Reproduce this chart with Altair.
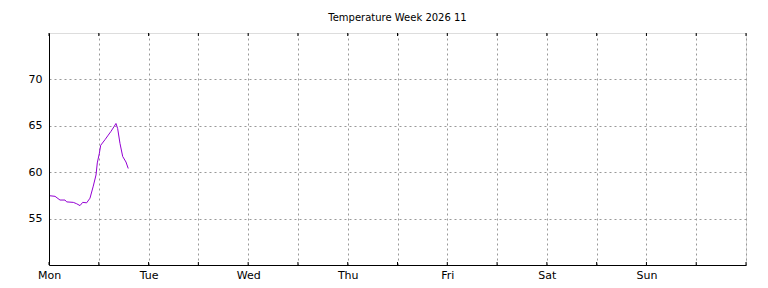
import altair as alt
import pandas as pd

hours = [0.24, 1.45, 2.65, 3.86, 4.27, 5.86, 6.67, 7.47, 8.12, 9.08, 9.88, 10.67,
         11.33, 11.64, 12.12, 12.46, 13.49, 14.29, 14.94, 15.66, 16.14, 16.55,
         17.11, 17.76, 18.55, 19.1]
temps = [57.46, 57.4, 57.0, 57.0, 56.8, 56.75, 56.6, 56.4, 56.75, 56.7, 57.2, 58.5,
         59.7, 61.0, 62.0, 62.9, 63.5, 64.0, 64.4, 64.9, 65.25, 64.7,
         63.1, 61.7, 61.1, 60.4]
day_names = ["Mon", "Tue", "Wed", "Thu", "Fri", "Sat", "Sun"]
x_ticks = list(range(0, 169, 12))
y_ticks = [55, 60, 65, 70]

df = pd.DataFrame({"h": hours, "t": temps})
ticks_df = pd.DataFrame({"h": x_ticks})

label_expr = ("datum.value % 24 == 0 && datum.value < 168 ? "
              "['Mon','Tue','Wed','Thu','Fri','Sat','Sun'][datum.value/24] : ''")

xscale = alt.Scale(domain=[0, 168], nice=False, zero=False)
yscale = alt.Scale(domain=[50, 75], nice=False, zero=False)

line = alt.Chart(df).mark_line(color="#9400D3", strokeWidth=1).encode(
    x=alt.X("h:Q", scale=xscale,
            axis=alt.Axis(values=x_ticks, labelExpr=label_expr, title=None,
                          grid=True, gridDash=[2, 3], gridColor="#999999",
                          ticks=False, labelPadding=4, domainColor="black",
                          labelFlush=False, labelOverlap=False,
                          labelFontSize=11, labelColor="black",
                          labelFont="DejaVu Sans")),
    y=alt.Y("t:Q", scale=yscale,
            axis=alt.Axis(values=y_ticks, title=None, grid=True,
                          gridDash=[2, 3], gridColor="#999999",
                          ticks=False, labelPadding=7, domainColor="black",
                          labelFontSize=11, labelColor="black",
                          labelFont="DejaVu Sans")),
)

top_ticks = alt.Chart(ticks_df).mark_rule(color="black", strokeWidth=1).encode(
    x=alt.X("h:Q", scale=xscale),
    y=alt.value(0), y2=alt.value(3),
)
bottom_ticks = alt.Chart(ticks_df).mark_rule(color="black", strokeWidth=1).encode(
    x=alt.X("h:Q", scale=xscale),
    y=alt.value(229), y2=alt.value(232),
)

chart = alt.layer(line, top_ticks, bottom_ticks).properties(
    width=697, height=232,
    title=alt.TitleParams("Temperature Week 2026 11", fontSize=10,
                          font="DejaVu Sans", fontWeight="normal",
                          color="black", offset=10),
    autosize=alt.AutoSizeParams(type="none"),
    padding={"left": 49, "top": 33, "right": 22, "bottom": 23},
).configure_view(stroke="black", strokeWidth=1).configure(background="white")

chart.save("out.html", embed_options={"renderer": "svg", "actions": False})
